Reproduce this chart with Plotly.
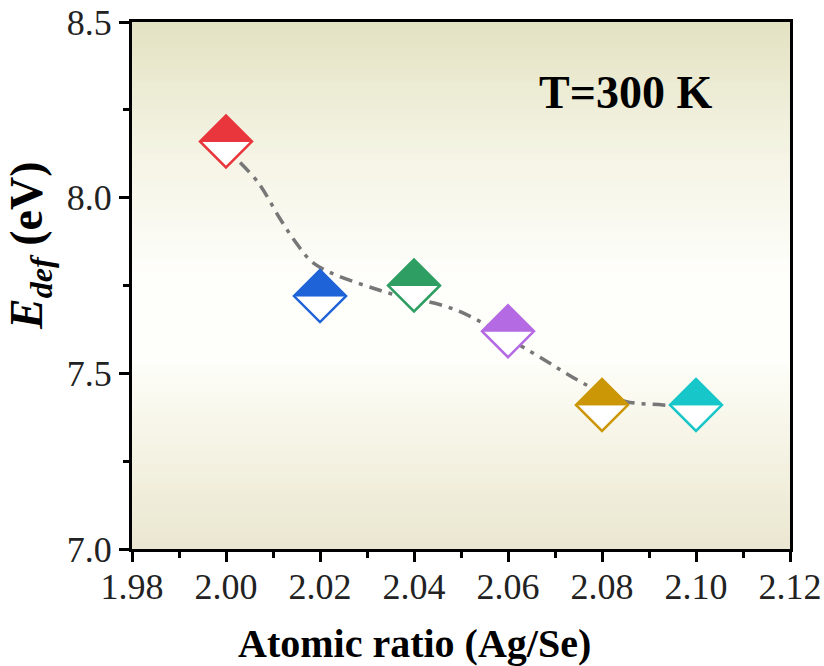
import plotly.graph_objects as go

# ---- data ----
ratio = [2.00, 2.02, 2.04, 2.06, 2.08, 2.10]
e_def = [8.16, 7.72, 7.75, 7.62, 7.41, 7.41]
colors = ["#E8363C", "#1E63D8", "#2E9E62", "#B36AE2", "#CB9706", "#17C6C8"]

# fitted guide line
fit_x = [2.003, 2.007, 2.0115, 2.015, 2.019, 2.033, 2.049, 2.065, 2.077, 2.085, 2.093, 2.100]
fit_y = [8.10, 8.04, 7.94, 7.87, 7.81, 7.735, 7.68, 7.56, 7.465, 7.42, 7.41, 7.40]

x_ticks = [1.98, 2.00, 2.02, 2.04, 2.06, 2.08, 2.10, 2.12]
x_minor = [1.99, 2.01, 2.03, 2.05, 2.07, 2.09, 2.11]
y_ticks = [7.0, 7.5, 8.0, 8.5]
y_minor = [7.25, 7.75, 8.25]

x_title = "<b>Atomic ratio (Ag/Se)</b>"
y_title = "<b><i>E</i><sub><i>def</i></sub> (eV)</b>"
label = "<b>T=300 K</b>"

FONT = "Liberation Serif, Times New Roman, serif"
W, H = 824, 666
ML, MR, MT, MB = 132, 34, 22, 117
PW, PH = W - ML - MR, H - MT - MB

fig = go.Figure()

# gradient background (vertical)
stops = [(0.0, (227, 226, 194)), (0.22, (243, 242, 225)), (0.48, (254, 254, 251)),
         (0.64, (254, 254, 250)), (0.82, (244, 242, 226)), (1.0, (234, 230, 209))]

def col_at(t):
    for (t0, c0), (t1, c1) in zip(stops[:-1], stops[1:]):
        if t0 <= t <= t1:
            f = (t - t0) / (t1 - t0)
            return "rgb(%d,%d,%d)" % tuple(round(a + (b - a) * f) for a, b in zip(c0, c1))
    return "rgb(%d,%d,%d)" % stops[-1][1]

N = 80
shapes = []
for i in range(N):
    t = (i + 0.5) / N  # from top
    shapes.append(dict(type="rect", xref="x domain", yref="y domain",
                       x0=0, x1=1, y0=max(0, 1 - (i + 1) / N - 0.003), y1=1 - i / N,
                       fillcolor=col_at(t), line=dict(width=0), layer="below"))

fig.add_trace(go.Scatter(x=fit_x, y=fit_y, mode="lines", line_shape="spline",
                         line=dict(color="#777777", width=3.5, dash="13px,7px,4px,7px"),
                         hoverinfo="skip", showlegend=False))

MSIZE = 40
fig.add_trace(go.Scatter(x=ratio, y=e_def, mode="markers", showlegend=False,
                         marker=dict(symbol="diamond", size=MSIZE, color="white",
                                     line=dict(color=colors, width=2.5))))

h = round(0.65 * MSIZE, 2)
for xv, yv, c in zip(ratio, e_def, colors):
    shapes.append(dict(type="path", xref="x", yref="y", xsizemode="pixel", ysizemode="pixel",
                       xanchor=xv, yanchor=yv,
                       path=f"M -{h},0 L 0,{h} L {h},0 Z",
                       fillcolor=c, line=dict(color=c, width=1), layer="above"))

fig.update_layout(
    width=W, height=H,
    margin=dict(l=ML, r=MR, t=MT, b=MB, autoexpand=False),
    paper_bgcolor="white", plot_bgcolor="white",
    shapes=shapes,
    font=dict(family=FONT, color="black"),
    annotations=[
        dict(text=label, xref="x domain", yref="y domain", x=(625 - ML) / PW, y=(549 - 92) / PH,
             xanchor="center", yanchor="middle", showarrow=False,
             font=dict(family=FONT, size=46, color="black")),
        dict(text=x_title, xref="paper", yref="paper", x=(414 - ML) / PW, y=-(643 - 549) / PH,
             xanchor="center", yanchor="middle", showarrow=False,
             font=dict(family=FONT, size=40, color="black")),
        dict(text=y_title, xref="paper", yref="paper", x=(30 - ML) / PW, y=(549 - 246) / PH,
             xanchor="center", yanchor="middle", showarrow=False, textangle=-90,
             font=dict(family=FONT, size=46, color="black")),
    ],
)

fig.update_xaxes(range=[1.98, 2.12], tickvals=x_ticks, ticktext=[f"{v:.2f}" for v in x_ticks],
                 showgrid=False, zeroline=False, automargin=False,
                 showline=True, linecolor="black", linewidth=3, mirror=True,
                 ticks="outside", ticklen=10, tickwidth=3, tickcolor="black",
                 ticklabelstandoff=-6,
                 minor=dict(tickvals=x_minor, ticks="outside", ticklen=6, tickwidth=3, tickcolor="black"),
                 tickfont=dict(family=FONT, size=36, color="#222222"))

fig.update_yaxes(range=[7.0, 8.5], tickvals=y_ticks, ticktext=[f"{v:.1f}" for v in y_ticks],
                 showgrid=False, zeroline=False, automargin=False,
                 showline=True, linecolor="black", linewidth=3, mirror=True,
                 ticks="outside", ticklen=10, tickwidth=3, tickcolor="black",
                 minor=dict(tickvals=y_minor, ticks="outside", ticklen=6, tickwidth=3, tickcolor="black"),
                 tickfont=dict(family=FONT, size=36, color="#222222"))

fig.write_html("out.html")
